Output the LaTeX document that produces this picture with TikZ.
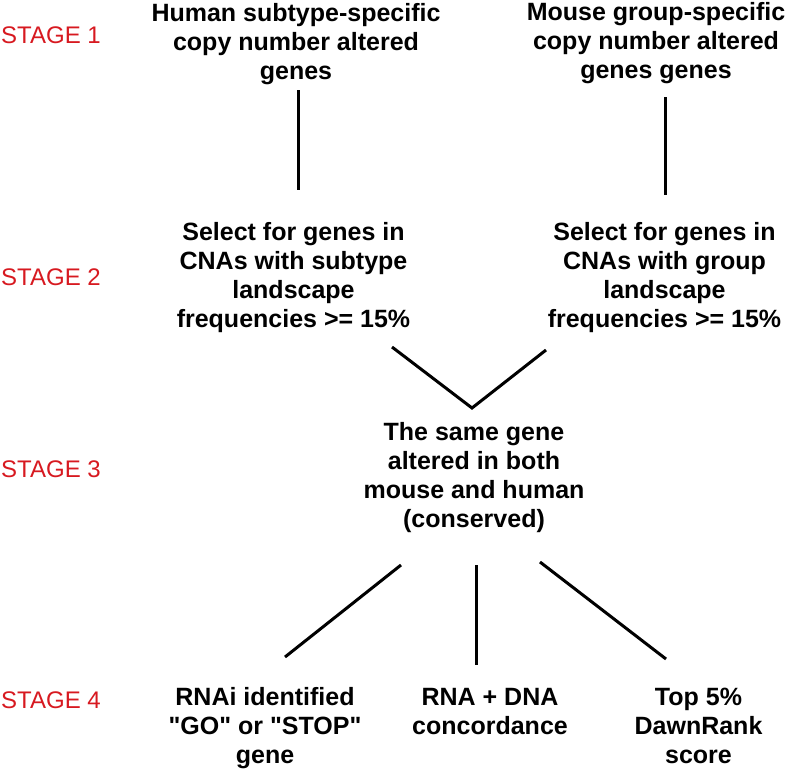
\documentclass[tikz,border=0pt]{standalone}
\usepackage{fontspec}
\setmainfont{Liberation Sans}
\definecolor{stagered}{RGB}{215,25,32}
\begin{document}
\begin{tikzpicture}[x=1pt, y=-1pt,
  stage/.style={anchor=base west, inner sep=0, text=stagered, font=\fontsize{24}{28}\selectfont},
  step text/.style={anchor=base, inner sep=0, align=center, font=\fontsize{25}{29}\selectfont\bfseries},
  link/.style={line width=3pt}]
  \useasboundingbox (0,0) rectangle (786,769);
  % stage labels
  \node[stage] (s1) at (1,43) {STAGE 1};
  \node[stage] (s2) at (1,285) {STAGE 2};
  \node[stage] (s3) at (1,477) {STAGE 3};
  \node[stage] (s4) at (1,708) {STAGE 4};
  % text blocks (base = last line)
  \node[step text] (hum1) at (296,79) {Human subtype-specific\\copy number altered\\genes};
  \node[step text] (mou1) at (656,78) {Mouse group-specific\\copy number altered\\genes genes};
  \node[step text] (hum2) at (293.5,327) {Select for genes in\\CNAs with subtype\\landscape\\frequencies >= 15\%};
  \node[step text] (mou2) at (664.5,327) {Select for genes in\\CNAs with group\\landscape\\frequencies >= 15\%};
  \node[step text] (cons) at (474,527) {The same gene\\altered in both\\mouse and human\\(conserved)};
  \node[step text] (rnai) at (265,763) {RNAi identified\\\textquotedbl GO\textquotedbl{} or \textquotedbl STOP\textquotedbl\\gene};
  \node[step text] (conc) at (490,734) {RNA + DNA\\concordance};
  \node[step text] (dawn) at (698.5,763) {Top 5\%\\DawnRank\\score};
  % line ends
  \coordinate (hum1 out) at (298,90);  \coordinate (hum2 in) at (298,190);
  \coordinate (mou1 out) at (665,97);  \coordinate (mou2 in) at (665,195);
  \coordinate (hum2 out) at (392,347); \coordinate (mou2 out) at (546,350);
  \coordinate (cons in) at (472,408);
  \coordinate (cons outl) at (401,565); \coordinate (rnai in) at (285,657);
  \coordinate (cons outm) at (476,565); \coordinate (conc in) at (476,665);
  \coordinate (cons outr) at (540,562); \coordinate (dawn in) at (666,659);
  % connectors
  \draw[link] (hum1 out) -- (hum2 in);
  \draw[link] (mou1 out) -- (mou2 in);
  \draw[link] (hum2 out) -- (cons in) -- (mou2 out);
  \draw[link] (cons outl) -- (rnai in);
  \draw[link] (cons outm) -- (conc in);
  \draw[link] (cons outr) -- (dawn in);
\end{tikzpicture}
\end{document}
